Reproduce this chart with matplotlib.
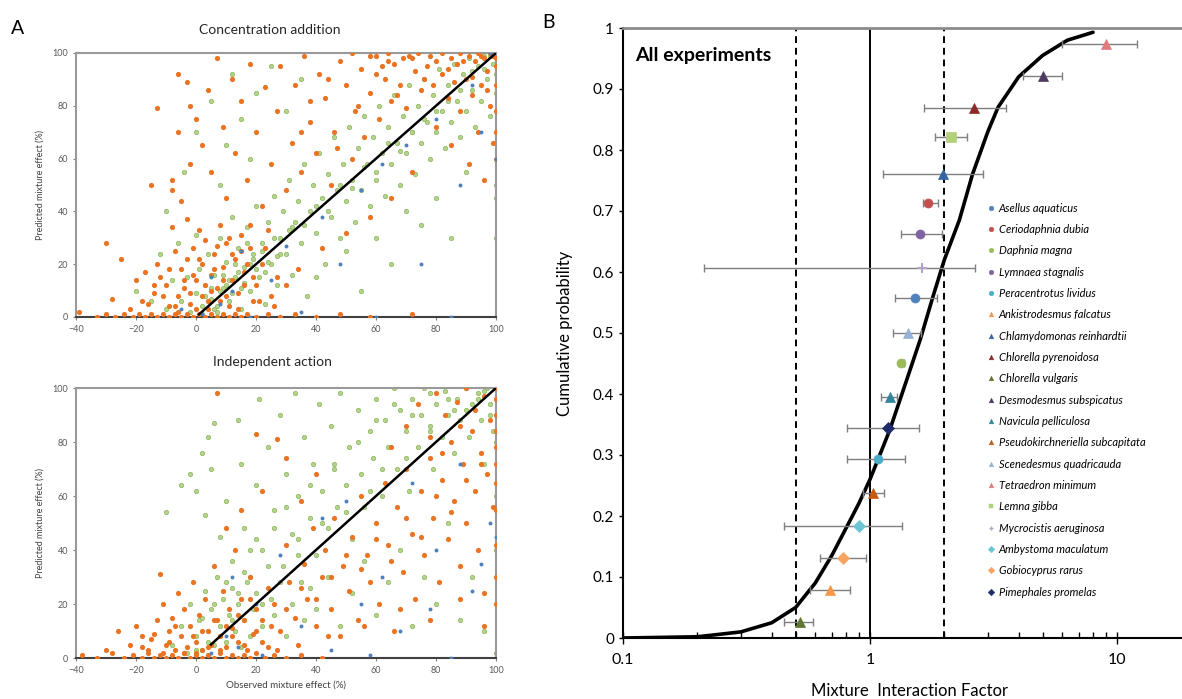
import numpy as np
import matplotlib
matplotlib.use("Agg")
import matplotlib.pyplot as plt
from matplotlib.lines import Line2D
from matplotlib.ticker import FixedLocator, LogLocator, NullFormatter, FuncFormatter

plt.rcParams['font.family'] = ['Lato', 'DejaVu Sans']

# ---------------- panel A data (observed, predicted) ----------------
ca_orange_x = [-39,-33,-30,-27,-24,-21,-19,-17,-15,-13,-11,-9,-7,-5,-3,-1,1,3,5,7,9,11,13,15,17,20,24,28,33,40,48,58,72,
               -30,-28,-25,-22,-20,-17,-16,-14,-13,-12,-10,-9,-8,-7,-6,-5,-4,-3,-3,-2,-1,0,1,2,2,3,4,5,6,7,8,8,9,10,11,12,13,14,15,16,18,19,20,22,24,25,27,
               -15,-13,-8,-8,-6,-6,-5,-3,-2,-2,0,2,4,5,7,9,10,12,13,15,17,18,20,22,23,25,
               27,28,30,32,33,35,36,38,40,41,43,45,46,48,50,52,53,55,56,58,60,61,63,65,66,68,70,71,73,75,
               52,58,64,69,74,78,82,85,88,91,94,96,98,
               77,79,80,82,84,85,87,88,90,91,92,93,94,95,96,97,98,99,100,100,100,100,100,100,
               26,30,34,42,50,58,65,72,
               -18,-14,-11,-9,-7,-4,-2,0,1,3,4,6,7,9,10,12,14,16,17,19,21,23,-6,-1,5,11,15,18,
               60,64,67,72,76,80,84,86,89,92,95,97,99,35,38,44,47,54,62]
ca_orange_y = [2,0,1,0,1,0,1,0,1,0,1,0,1,0,1,0,1,0,1,0,1,0,1,0,1,0,1,0,1,0,1,0,1,
               28,7,22,3,14,17,5,9,20,15,12,4,34,25,8,18,11,37,22,5,26,14,33,8,20,29,3,16,24,11,35,6,19,28,4,14,22,9,31,17,26,6,12,20,33,8,15,
               50,79,52,48,92,70,44,89,80,58,75,65,86,55,98,72,45,90,62,82,52,96,70,42,87,58,
               78,95,48,66,88,55,99,74,62,92,83,50,70,97,88,60,78,94,68,85,99,75,90,82,96,88,79,99,93,86,
               100,99,100,98,100,99,100,98,100,99,100,98,100,
               95,88,72,92,83,65,96,78,90,58,84,97,70,88,52,93,80,66,95,88,78,70,98,60,
               4,12,18,26,32,38,45,55,
               6,12,8,18,4,14,9,3,22,12,6,18,27,14,8,24,3,12,20,15,6,26,2,16,10,30,25,35,
               92,97,84,98,90,97,94,89,97,91,99,86,99,70,82,90,64,80,95]

ca_green_x = [-20,-15,-12,-10,-8,-6,-5,-3,-2,0,0,1,2,3,4,5,6,7,8,9,10,11,12,13,14,15,16,17,18,19,20,21,22,23,24,25,26,27,28,29,
              30,31,32,33,34,35,36,37,38,39,40,41,42,43,44,45,46,47,48,49,50,51,52,53,54,55,56,57,58,59,60,61,62,63,64,65,66,67,68,69,
              70,71,72,73,74,75,76,77,78,79,80,81,82,83,84,85,86,87,88,89,90,91,92,93,94,95,96,97,98,99,100,100,100,100,100,100,100,
              0,5,-4,10,15,8,20,25,12,-10,30,35,18,
              40,50,60,70,55,80,90,65,75,85,
              2,4,6,8,10,12,14,16,18,20,22,24,26,28,32,36,40,44,48,52,56,60,64,68,72,76,80,84,88,92,96,98,
              3,7,11,15,19,23,27,31,5,9,13,17]
ca_green_y = [10,6,24,3,14,28,6,15,2,9,31,18,4,12,24,7,16,2,30,11,21,6,38,15,26,3,19,34,10,24,42,15,28,5,36,20,46,12,30,40,
              24,52,16,36,44,28,58,8,40,50,32,62,45,20,54,38,68,48,30,58,44,72,52,36,64,48,76,58,42,68,52,80,62,46,72,58,84,66,50,76,
              62,88,70,54,80,66,90,74,60,84,70,94,78,64,88,74,96,82,68,92,78,98,86,72,95,82,99,90,76,96,85,92,100,70,50,45,30,
              70,82,55,65,75,50,85,95,92,40,78,90,60,
              15,25,30,40,10,45,55,20,35,30,
              1,6,3,10,12,9,17,13,20,18,25,21,30,24,34,35,42,40,50,49,57,55,66,63,70,75,78,82,86,93,94,99,
              8,4,14,11,22,17,23,33,11,16,20,28]

ca_blue_x = [2,8,12,18,25,30,35,42,48,55,60,62,70,75,80,85,88,92,95,98,100,15,5,-5]
ca_blue_y = [1,5,10,0,14,27,2,38,20,48,0,58,65,20,75,0,50,88,70,100,60,25,15,3]

ia_orange_x = [-38,-33,-28,-24,-21,-18,-16,-14,-12,-10,-8,-6,-4,-2,0,2,4,6,8,10,12,14,16,18,20,23,26,30,35,42,
               -30,-26,-22,-20,-18,-16,-15,-13,-12,-11,-10,-9,-8,-7,-6,-5,-4,-3,-2,-1,0,1,2,3,4,5,6,7,8,9,10,11,12,13,14,15,16,17,18,19,20,22,24,25,27,
               26,28,30,31,33,34,36,37,39,40,42,43,45,46,48,49,51,52,54,55,57,58,60,61,63,64,66,67,69,70,72,73,75,76,78,79,81,82,84,85,86,88,89,90,92,93,94,95,96,97,98,99,
               100,100,100,100,100,100,100,100,100,100,100,
               65,70,74,78,80,83,87,90,93,96,88,82,
               7,20,27,30,35,15,22,10,40,
               -18,-14,-11,-9,-7,-4,-1,0,2,4,6,8,10,12,14,16,18,20,22,24,
               30,35,40,45,50,55,60,65,70,75,80,85,90,95,44,56,68,78,88,96]
ia_orange_y = [1,0,2,0,1,0,2,0,1,0,1,0,2,0,1,0,1,0,2,0,1,0,1,0,2,0,1,0,1,0,
               3,10,5,12,8,3,7,14,31,20,5,10,15,3,24,8,18,4,12,28,6,16,3,22,10,5,34,14,8,25,4,18,11,40,6,22,14,3,30,9,18,6,26,12,3,
               20,10,42,28,15,5,35,22,48,12,30,40,18,52,8,34,25,45,14,60,38,28,50,20,65,42,10,56,32,70,46,22,62,38,74,52,28,66,44,80,58,34,72,50,84,62,40,76,24,68,88,56,
               20,30,42,55,65,72,78,84,90,96,100,
               78,86,94,82,98,90,95,100,92,97,86,76,
               98,83,81,74,58,55,62,48,68,
               4,9,2,6,12,2,8,2,10,4,14,3,12,8,16,5,22,10,14,4,
               18,26,22,30,38,33,44,36,52,45,60,54,66,72,8,12,18,14,22,12]

ia_green_x = [-10,-5,-2,0,2,4,5,6,3,8,10,12,14,15,16,18,20,21,22,24,25,26,28,29,30,32,33,34,35,36,38,39,40,41,42,44,45,46,47,48,
              50,51,52,54,55,56,58,59,60,62,63,64,66,67,68,70,71,72,74,75,76,78,79,80,82,83,84,86,87,88,90,91,92,94,95,96,97,98,99,
              100,100,100,100,100,100,100,
              -8,-5,-3,-2,0,1,2,3,4,5,6,7,8,9,10,11,12,13,14,15,16,17,18,19,20,22,24,26,28,30,32,34,36,38,40,44,48,52,56,60,64,68,72,76,80,84,88,92,96,
              0,2,4,6,8,10,12,14,16,18,20,22,26,30,34,38,42,46,50,54,58,62,70,78,86,94,60,66,72,78,84,90,96,98]
ia_green_y = [54,64,68,62,76,82,70,87,53,45,58,36,88,72,48,30,64,96,40,78,22,55,90,34,68,46,98,60,28,82,52,72,38,94,62,48,86,70,56,98,
              64,78,44,92,68,56,84,74,96,60,88,78,100,70,92,84,62,96,78,90,100,86,70,94,82,99,90,76,96,88,100,82,94,98,88,72,100,94,84,
              100,96,90,80,60,40,2,
              5,12,2,20,8,14,3,25,10,18,5,30,12,22,6,16,26,10,20,4,14,28,8,18,24,12,34,16,28,8,20,38,14,26,18,30,12,24,36,16,28,40,12,30,20,50,14,30,10,
              3,15,6,20,8,28,14,24,32,40,44,20,48,56,44,64,50,72,54,80,62,70,74,84,92,96,88,94,90,98,96,92,99,90]

ia_blue_x = [5,10,14,20,22,28,35,42,45,50,55,58,62,68,72,78,80,85,88,92,95,98,100,12]
ia_blue_y = [2,8,4,20,1,38,12,52,3,58,20,1,30,10,65,18,40,0,72,25,35,50,45,30]

ca_line_x = [1, 100]
ca_line_y = [1, 100]
ia_line_x = [5, 100]
ia_line_y = [5, 100]
effect_ticks = [-40, -20, 0, 20, 40, 60, 80, 100]
pred_ticks = [0, 20, 40, 60, 80, 100]

# ---------------- panel B data ----------------
species = ["Asellus aquaticus", "Ceriodaphnia dubia", "Daphnia magna", "Lymnaea stagnalis",
           "Peracentrotus lividus", "Ankistrodesmus falcatus", "Chlamydomonas reinhardtii",
           "Chlorella pyrenoidosa", "Chlorella vulgaris", "Desmodesmus subspicatus",
           "Navicula pelliculosa", "Pseudokirchneriella subcapitata", "Scenedesmus quadricauda",
           "Tetraedron minimum", "Lemna gibba", "Mycrocistis aeruginosa", "Ambystoma maculatum",
           "Gobiocyprus rarus", "Pimephales promelas"]
mif = [1.52, 1.72, 1.34, 1.59, 1.08, 0.69, 1.98, 2.64, 0.52, 5.0, 1.21, 1.03, 1.43, 9.0, 2.13, 1.62, 0.90, 0.78, 1.18]
cum_p = [0.557, 0.713, 0.451, 0.662, 0.293, 0.078, 0.761, 0.869, 0.026, 0.921, 0.395, 0.238, 0.500, 0.974, 0.821, 0.607, 0.184, 0.131, 0.344]
mif_lo = [1.26, 1.64, 1.31, 1.34, 0.81, 0.57, 1.13, 1.65, 0.45, 4.16, 1.11, 0.94, 1.24, 6.0, 1.83, 0.213, 0.45, 0.63, 0.81]
mif_hi = [1.87, 1.88, 1.37, 1.96, 1.39, 0.83, 2.87, 3.55, 0.59, 5.98, 1.29, 1.14, 1.61, 12.0, 2.47, 2.66, 1.35, 0.96, 1.58]
markers = ['o', 'o', 'o', 'o', 'o', '^', '^', '^', '^', '^', '^', '^', '^', '^', 's', '+', 'D', 'D', 'D']
colors = ['#4f81bd', '#c0504d', '#9bbb59', '#8064a2', '#4bacc6', '#f79646', '#3465a4', '#8b2a28',
          '#5f7530', '#4d3b62', '#31859c', '#c55a11', '#95b3d7', '#e07b7b', '#b3d07a', '#b3a2c7',
          '#6cc4d4', '#f5a55f', '#1f2a6b']

curve_x = [0.1, 0.2, 0.3, 0.4, 0.5, 0.6, 0.7, 0.8, 0.9, 1.0, 1.2, 1.4, 1.6, 1.8, 2.0, 2.3, 2.6, 3.0, 3.3, 4.0, 5.0, 6.3, 8.0]
curve_y = [0.0, 0.002, 0.01, 0.025, 0.05, 0.09, 0.135, 0.18, 0.22, 0.26, 0.34, 0.42, 0.49, 0.56, 0.62, 0.685, 0.76, 0.83, 0.87, 0.92, 0.955, 0.98, 0.993]

W, H = 1182, 699
fig = plt.figure(figsize=(W / 100, H / 100), dpi=100)

def fx(px):
    return px / W

def fy(py):
    return 1 - py / H

def scatter_panel(ax, ox, oy, gx, gy, bx, by, lx, ly):
    ax.scatter(gx, gy, s=10, facecolor='#b5d38a', edgecolor='#8cb85a', linewidth=0.5, zorder=2)
    ax.scatter(ox, oy, s=14, color='#ea7424', linewidth=0, zorder=3)
    ax.scatter(bx, by, s=8, color='#4f81bd', linewidth=0, zorder=3)
    ax.plot(lx, ly, color='black', lw=1.8, zorder=4)
    ax.set_xlim(-40, 100)
    ax.set_ylim(0, 100)
    ax.set_xticks(effect_ticks)
    ax.set_yticks(pred_ticks)
    ax.tick_params(labelsize=6.5, labelcolor='#595959', length=2, width=0.8, color='#808080')
    for s in ax.spines.values():
        s.set_color('#9a9a9a')
        s.set_linewidth(1.5)
    ax.spines['bottom'].set_color('#404040')
    ax.set_ylabel('Predicted mixture effect (%)', fontsize=6.5, color='#404040', labelpad=6)

ax1 = fig.add_axes([fx(76), fy(317), fx(496 - 76), (317 - 53) / H])
scatter_panel(ax1, ca_orange_x, ca_orange_y, ca_green_x, ca_green_y, ca_blue_x, ca_blue_y, ca_line_x, ca_line_y)
ax2 = fig.add_axes([fx(76), fy(658), fx(496 - 76), (658 - 388) / H])
scatter_panel(ax2, ia_orange_x, ia_orange_y, ia_green_x, ia_green_y, ia_blue_x, ia_blue_y, ia_line_x, ia_line_y)
ax2.set_xlabel('Observed mixture effect (%)', fontsize=7, color='#404040', labelpad=4)

fig.text(fx(270), fy(30), 'Concentration addition', fontsize=10, ha='center', va='center', color='#262626')
fig.text(fx(272), fy(362), 'Independent action', fontsize=10, ha='center', va='center', color='#262626')
fig.text(fx(18), fy(28), 'A', fontsize=14, ha='center', va='center')
fig.text(fx(548), fy(22), 'B', fontsize=14, ha='center', va='center')

# ---------------- panel B ----------------
ax3 = fig.add_axes([fx(623), fy(638), fx(1195 - 623), (638 - 28) / H])
ax3.set_xscale('log')
ax3.set_xlim(0.1, 20.7)
ax3.set_ylim(0, 1)
ax3.axvline(1, color='black', lw=1.4, zorder=1)
ax3.axvline(0.5, color='black', lw=1.4, ls=(0, (3.5, 2.5)), zorder=1)
ax3.axvline(2, color='black', lw=1.4, ls=(0, (3.5, 2.5)), zorder=1)
ax3.plot(curve_x, curve_y, color='black', lw=2.6, zorder=2, solid_capstyle='round')

handles = []
for i in range(len(species)):
    ax3.errorbar(mif[i], cum_p[i], xerr=[[mif[i] - mif_lo[i]], [mif_hi[i] - mif[i]]],
                 fmt='none', ecolor='#7f7f7f', elinewidth=1, capsize=3, capthick=1, zorder=3)
    ms = 6.5 if markers[i] in ('o', 's') else (6 if markers[i] == 'D' else 7)
    ax3.plot(mif[i], cum_p[i], marker=markers[i], color=colors[i], ms=ms, mew=1.5 if markers[i] == '+' else 0.5,
             ls='none', zorder=4)
    handles.append(Line2D([], [], marker=markers[i], color=colors[i], ls='none', ms=3.4,
                          mew=1 if markers[i] == '+' else 0.3))

leg = ax3.legend(handles, species, loc='upper left', bbox_to_anchor=(fx(982), fy(197)),
                 bbox_transform=fig.transFigure, frameon=False, handlelength=0.6, handletextpad=0.4,
                 labelspacing=0.93, borderpad=0, prop={'size': 8, 'style': 'italic'})

ax3.yaxis.set_major_locator(FixedLocator(np.round(np.arange(0, 1.01, 0.1), 1)))
ax3.yaxis.set_major_formatter(FuncFormatter(lambda v, p: '%g' % round(v, 1)))
ax3.xaxis.set_major_locator(FixedLocator([0.1, 1, 10]))
ax3.xaxis.set_major_formatter(FuncFormatter(lambda v, p: '%g' % v))
ax3.xaxis.set_minor_locator(LogLocator(base=10, subs=np.arange(2, 10), numticks=20))
ax3.xaxis.set_minor_formatter(NullFormatter())
ax3.tick_params(axis='y', direction='out', length=3, width=1, labelsize=11)
ax3.tick_params(axis='x', which='major', direction='inout', length=9, width=1, labelsize=11.5, pad=6)
ax3.tick_params(axis='x', which='minor', direction='in', length=4, width=1)
ax3.spines['right'].set_visible(False)
ax3.spines['top'].set_color('#8c8c8c')
ax3.spines['top'].set_linewidth(2)
ax3.spines['left'].set_linewidth(1.5)
ax3.spines['bottom'].set_linewidth(1.5)
ax3.set_xlabel('Mixture  Interaction Factor', fontsize=12, labelpad=12)
ax3.set_ylabel('Cumulative probability', fontsize=12, labelpad=14)
ax3.text(0.112, 0.955, 'All experiments', fontsize=14, fontweight='bold', transform=ax3.transData, va='center')

fig.savefig('out.png', dpi=100)
